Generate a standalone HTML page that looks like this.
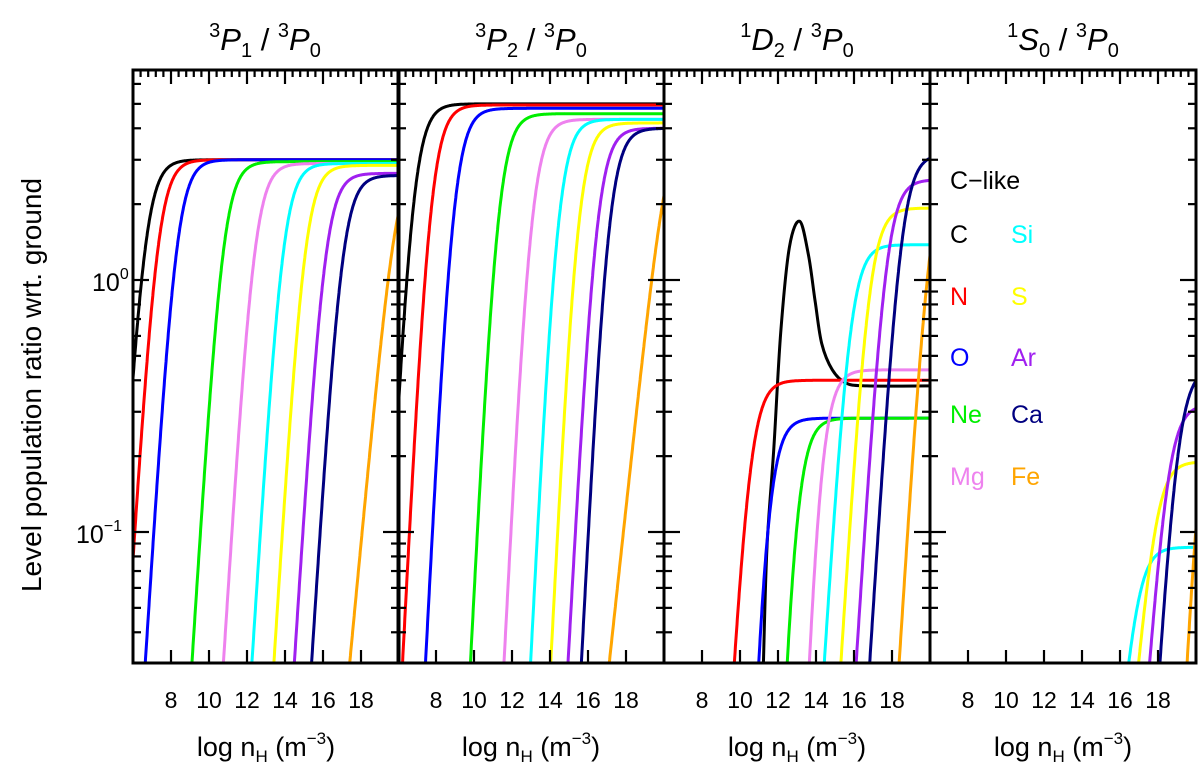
<!DOCTYPE html>
<html><head><meta charset="utf-8">
<style>
html,body{margin:0;padding:0;background:#fff;}
svg{display:block;font-family:"Liberation Sans",sans-serif;}
</style></head>
<body>
<svg id="chart" width="1200" height="774" viewBox="0 0 1200 774" xmlns="http://www.w3.org/2000/svg">
<defs>
<clipPath id="c0"><rect x="133" y="70" width="265" height="593"/></clipPath>
<clipPath id="c1"><rect x="398" y="70" width="266" height="593"/></clipPath>
<clipPath id="c2"><rect x="664" y="70" width="266" height="593"/></clipPath>
<clipPath id="c3"><rect x="930" y="70" width="266" height="593"/></clipPath>
</defs>
<g id="titles" font-size="31" text-anchor="middle">
<text x="265" y="50"><tspan font-size="20" dy="-13">3</tspan><tspan font-style="italic" dy="13">P</tspan><tspan font-size="20" dy="7">1</tspan><tspan dy="-7"> / </tspan><tspan font-size="20" dy="-13">3</tspan><tspan font-style="italic" dy="13">P</tspan><tspan font-size="20" dy="7">0</tspan></text>
<text x="531" y="50"><tspan font-size="20" dy="-13">3</tspan><tspan font-style="italic" dy="13">P</tspan><tspan font-size="20" dy="7">2</tspan><tspan dy="-7"> / </tspan><tspan font-size="20" dy="-13">3</tspan><tspan font-style="italic" dy="13">P</tspan><tspan font-size="20" dy="7">0</tspan></text>
<text x="797" y="50"><tspan font-size="20" dy="-13">1</tspan><tspan font-style="italic" dy="13">D</tspan><tspan font-size="20" dy="7">2</tspan><tspan dy="-7"> / </tspan><tspan font-size="20" dy="-13">3</tspan><tspan font-style="italic" dy="13">P</tspan><tspan font-size="20" dy="7">0</tspan></text>
<text x="1063" y="50"><tspan font-size="20" dy="-13">1</tspan><tspan font-style="italic" dy="13">S</tspan><tspan font-size="20" dy="7">0</tspan><tspan dy="-7"> / </tspan><tspan font-size="20" dy="-13">3</tspan><tspan font-style="italic" dy="13">P</tspan><tspan font-size="20" dy="7">0</tspan></text>
</g>
<text transform="translate(41,385) rotate(-90)" font-size="28" text-anchor="middle">Level population ratio wrt. ground</text>
<text x="92" y="291" font-size="25">10<tspan font-size="16" dy="-12">0</tspan></text>
<text x="76" y="543" font-size="25">10<tspan font-size="16" dy="-12">−1</tspan></text>
<g id="series"></g>
<g id="axes"></g>
<g id="legend" font-size="25">
<text x="950" y="189" fill="#000">C−like</text>
<text x="950" y="243" fill="#000">C</text>
<text x="1011" y="243" fill="#00ffff">Si</text>
<text x="950" y="305" fill="#ff0000">N</text>
<text x="1011" y="305" fill="#ffff00">S</text>
<text x="950" y="366" fill="#0000ff">O</text>
<text x="1011" y="366" fill="#a020f0">Ar</text>
<text x="950" y="423" fill="#00ee00">Ne</text>
<text x="1011" y="423" fill="#000080">Ca</text>
<text x="950" y="485" fill="#ee82ee">Mg</text>
<text x="1011" y="485" fill="#ffa500">Fe</text>
</g>
</svg>
<script>
const species = ['C','N','O','Ne','Mg','Si','S','Ar','Ca','Fe'];
const colors = ['#000000','#ff0000','#0000ff','#00ee00','#ee82ee','#00ffff','#ffff00','#a020f0','#000080','#ffa500'];
const xTicks = [8,10,12,14,16,18];
// panel 1: 3P1/3P0
const p1Plateau = [3.0,3.0,3.0,2.95,2.9,2.9,2.85,2.65,2.6,3.0];
const p1Center  = [6.63,7.3,8.3,10.75,12.4,13.9,15.05,16.1,17.0,19.9];
const p1Steep   = [1.2,1.2,1.2,1.2,1.2,1.2,1.2,1.2,1.2,0.8];
// panel 2: 3P2/3P0
const p2Plateau = [5.0,4.95,4.8,4.57,4.34,4.34,4.2,4.0,4.0,4.0];
const p2Center  = [6.75,7.7,8.9,11.25,13.0,14.4,15.45,16.45,17.05,20.15];
const p2Steep   = [1.5,1.5,1.5,1.5,1.5,1.5,1.5,1.4,1.5,0.7];
// panel 3: 1D2/3P0 (C drawn from bump points)
const p3Plateau = [null,0.40,0.283,0.283,0.44,1.38,1.93,2.5,3.16,3.0];
const p3Center  = [null,10.5,11.3,12.8,14.1,15.8,16.8,17.7,18.5,20.03];
const p3Steep   = [null,1.3,2,2,2,1.2,1.2,1.2,1.2,1.2];
const cBumpX = [11.23,11.42,11.78,12.14,12.6,13.14,13.6,13.95,14.3,14.86,15.58,16.68,20.0];
const cBumpY = [0.030,0.087,0.214,0.617,1.35,1.71,1.26,0.83,0.56,0.44,0.39,0.38,0.38];
// panel 4: 1S0/3P0
const p4Plateau = [null,null,null,null,null,0.087,0.19,0.32,0.45,0.5];
const p4Center  = [null,null,null,null,null,16.9,17.93,18.54,19.03,20.27];
const p4Steep   = [null,null,null,null,null,0.8,0.8,1.0,1.2,1.5];

const NS='http://www.w3.org/2000/svg';
const lefts=[133,398,664,930], W=266, TOP=70, BOT=663;
const XMIN=6, XMAX=20;
function xs(p,v){return lefts[p]+(v-XMIN)*(W/(XMAX-XMIN));}
function ys(v){return 280-252*Math.log10(v);}
function mk(tag,attrs,parent){const e=document.createElementNS(NS,tag);for(const k in attrs)e.setAttribute(k,attrs[k]);parent.appendChild(e);return e;}
function smoothPath(pts){
  let d='M'+pts[0][0].toFixed(1)+','+pts[0][1].toFixed(1);
  for(let i=0;i<pts.length-1;i++){
    const p0=pts[Math.max(0,i-1)],p1=pts[i],p2=pts[i+1],p3=pts[Math.min(pts.length-1,i+2)];
    const c1x=p1[0]+(p2[0]-p0[0])/6,c1y=p1[1]+(p2[1]-p0[1])/6;
    const c2x=p2[0]-(p3[0]-p1[0])/6,c2y=p2[1]-(p3[1]-p1[1])/6;
    d+='C'+c1x.toFixed(1)+','+c1y.toFixed(1)+' '+c2x.toFixed(1)+','+c2y.toFixed(1)+' '+p2[0].toFixed(1)+','+p2[1].toFixed(1);
  }
  return d;
}
const series=document.getElementById('series');
const axes=document.getElementById('axes');
const panels=[[p1Plateau,p1Center,p1Steep],[p2Plateau,p2Center,p2Steep],[p3Plateau,p3Center,p3Steep],[p4Plateau,p4Center,p4Steep]];
const panelNames=['3p1','3p2','1d2','1s0'];
panels.forEach((pd,p)=>{
  const g=mk('g',{'clip-path':'url(#c'+p+')'},series);
  
  
  for(let i=0;i<species.length;i++){
    let d='';
    if(p===2&&i===0){
      const pts=cBumpX.map((x,k)=>[xs(p,x),ys(cBumpY[k])]);
      d=smoothPath(pts);
    } else {
      const P=pd[0][i]; if(P===null) continue;
      const xc=pd[1][i], s=pd[2][i];
      let first=true;
      for(let x=XMIN-0.2;x<=XMAX+0.2;x+=0.02){
        const L=Math.log10(P)-s*Math.log10(1+Math.pow(10,xc-x));
        if(L<-1.7){continue;}
        d+=(first?'M':'L')+xs(p,x).toFixed(1)+','+(280-252*L).toFixed(1);first=false;
      }
    }
    const path=mk('path',{d:d,fill:'none',stroke:colors[i],'stroke-width':3,'stroke-linejoin':'round'},g);
    
    
  }
});
// axes
for(let p=0;p<4;p++){
  const L=lefts[p], R=L+W;
  const fr=mk('rect',{x:L,y:TOP,width:W,height:BOT-TOP,fill:'none',stroke:'#000','stroke-width':3},axes);
  
  
  for(let k=0;k<=35;k++){
    const v=XMIN+k*0.4; const major=(Math.abs(v-Math.round(v))<1e-6 && Math.round(v)%2===0);
    const x=xs(p,v);
    const t=mk('line',{x1:x,y1:TOP,x2:x,y2:TOP+(major?14:7),stroke:'#000','stroke-width':2.2},axes);
    
    
  }
  xTicks.forEach(v=>{
    const x=xs(p,v);
    const t=mk('line',{x1:x,y1:BOT,x2:x,y2:BOT-13,stroke:'#000','stroke-width':2.2},axes);
    
    
    const lb=mk('text',{x:x,y:708,'font-size':23,'text-anchor':'middle'},axes);
    lb.textContent=v;
    
    
  });
  for(const dec of [0.01,0.1,1]){
    for(let m=1;m<=9;m++){
      const v=dec*m; const y=ys(v); if(y<TOP||y>BOT) continue;
      const len=(m===1)?16:8;
      const a=mk('line',{x1:L,y1:y,x2:L+len,y2:y,stroke:'#000','stroke-width':2.2},axes);
      
      
      const b=mk('line',{x1:R,y1:y,x2:R-len,y2:y,stroke:'#000','stroke-width':2.2},axes);
      
      
    }
  }
  const xt=mk('text',{x:L+W/2,y:756,'font-size':27,'text-anchor':'middle'},axes);
  
  
  xt.innerHTML='log n<tspan font-size="17" dy="6">H</tspan><tspan dy="-6"> (m</tspan><tspan font-size="17" dy="-12">−3</tspan><tspan dy="12">)</tspan>';
}
</script>
</body></html>
